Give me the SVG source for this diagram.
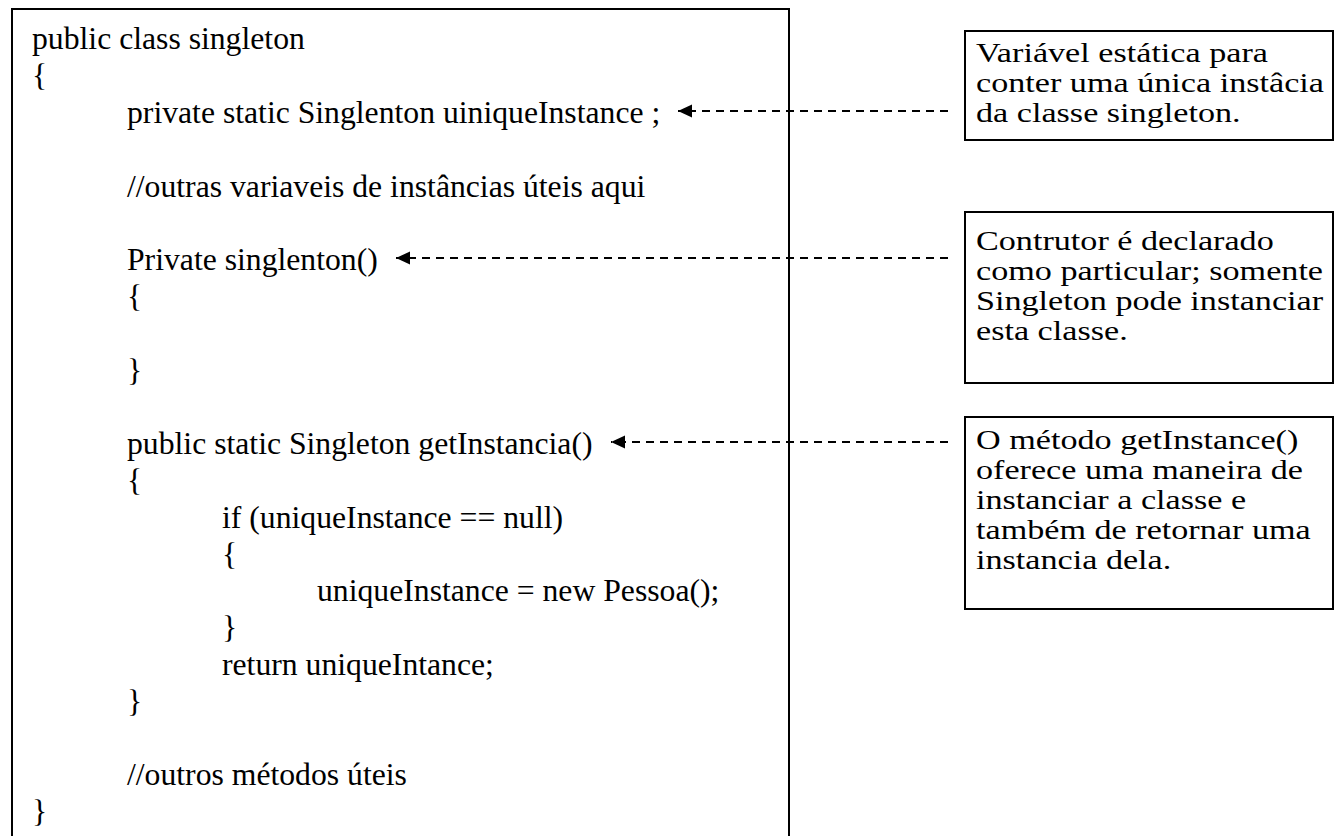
<svg xmlns="http://www.w3.org/2000/svg" width="1335" height="836" viewBox="0 0 1335 836">
  <style>
    .frame { fill: #fff; stroke: #000; stroke-width: 2; }
    .code { font-family: "Liberation Serif", "Times New Roman", serif; font-size: 31.7px; fill: #000; }
    .note { font-family: "Liberation Serif", "Times New Roman", serif; font-size: 28px; fill: #000; }
    .link { fill: none; stroke: #000; stroke-width: 2; stroke-dasharray: 8 6; }
  </style>
  <defs>
    <marker id="head" markerUnits="userSpaceOnUse" markerWidth="16" markerHeight="14" refX="14" refY="6.5" orient="auto">
      <path d="M0,0 L14,6.5 L0,13 Z" fill="#000"/>
    </marker>
  </defs>
  <rect width="1335" height="836" fill="#fff"/>

  <!-- class listing -->
  <g id="code-block">
    <rect class="frame" x="12" y="9" width="777" height="840"/>
    <text class="code" x="32" y="49.3">public class singleton</text>
    <text class="code" x="32" y="86.1">{</text>
    <text class="code" x="127" y="122.9">private static Singlenton uiniqueInstance ;</text>
    <text class="code" x="127" y="196.5">//outras variaveis de instâncias úteis aqui</text>
    <text class="code" x="127" y="270.1">Private singlenton()</text>
    <text class="code" x="127" y="306.9">{</text>
    <text class="code" x="127" y="380.5">}</text>
    <text class="code" x="127" y="454.1">public static Singleton getInstancia()</text>
    <text class="code" x="127" y="490.9">{</text>
    <text class="code" x="222" y="527.7">if (uniqueInstance == null)</text>
    <text class="code" x="222" y="564.5">{</text>
    <text class="code" x="317" y="601.3">uniqueInstance = new Pessoa();</text>
    <text class="code" x="222" y="638.1">}</text>
    <text class="code" x="222" y="674.9">return uniqueIntance;</text>
    <text class="code" x="127" y="711.7">}</text>
    <text class="code" x="127" y="785.3">//outros métodos úteis</text>
    <text class="code" x="32" y="822.1">}</text>
  </g>

  <!-- explanatory notes (text is set slightly wide) -->
  <g id="note-static">
    <rect class="frame" x="965" y="31" width="368" height="109"/>
    <g transform="translate(976 0) scale(1.22 1)">
      <text class="note" x="0" y="62">Variável estática para</text>
      <text class="note" x="0" y="92">conter uma única instâcia</text>
      <text class="note" x="0" y="122">da classe singleton.</text>
    </g>
  </g>
  <g id="note-constructor">
    <rect class="frame" x="965" y="212" width="368" height="171"/>
    <g transform="translate(976 0) scale(1.22 1)">
      <text class="note" x="0" y="250">Contrutor é declarado</text>
      <text class="note" x="0" y="280">como particular; somente</text>
      <text class="note" x="0" y="310">Singleton pode instanciar</text>
      <text class="note" x="0" y="340">esta classe.</text>
    </g>
  </g>
  <g id="note-getinstance">
    <rect class="frame" x="965" y="417" width="368" height="192"/>
    <g transform="translate(976 0) scale(1.22 1)">
      <text class="note" x="0" y="449">O método getInstance()</text>
      <text class="note" x="0" y="479">oferece uma maneira de</text>
      <text class="note" x="0" y="509">instanciar a classe e</text>
      <text class="note" x="0" y="539">também de retornar uma</text>
      <text class="note" x="0" y="569">instancia dela.</text>
    </g>
  </g>

  <!-- dashed pointers from notes to code lines -->
  <g id="connectors">
    <path class="link" d="M948,111 H678" marker-end="url(#head)"/>
    <path class="link" d="M948,258 H396" marker-end="url(#head)"/>
    <path class="link" d="M948,442 H611" marker-end="url(#head)"/>
  </g>
</svg>
